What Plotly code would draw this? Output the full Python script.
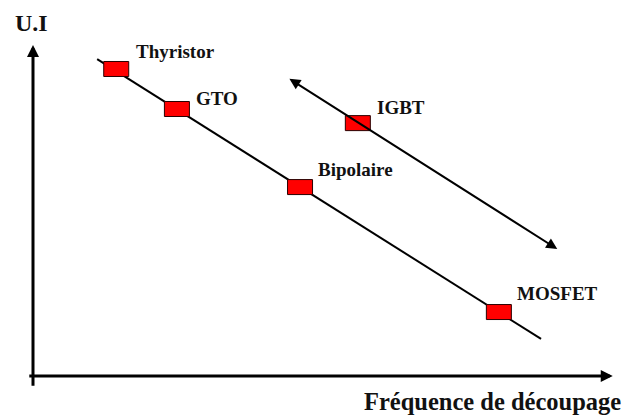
import plotly.graph_objects as go

# ---- data (arbitrary units: frequency on x, U.I on y) ----
devices = ["Thyristor", "GTO", "Bipolaire", "MOSFET"]
freq = [1.44, 2.49, 4.62, 8.06]
ui = [9.36, 8.14, 5.76, 1.95]

trend_freq = [1.11, 8.79]
trend_ui = [9.66, 1.13]

igbt_name = "IGBT"
igbt_freq = 5.62
igbt_ui = 7.71
igbt_span_freq = [4.41, 9.07]
igbt_span_ui = [9.09, 3.87]

x_axis_title = "Fréquence de découpage"
y_axis_title = "U.I"

FONT = "Liberation Serif, Times New Roman, serif"
W, H = 625, 411  # page body has an 8px margin

fig = go.Figure()

# main trend line
fig.add_trace(go.Scatter(x=trend_freq, y=trend_ui, mode="lines",
                         line=dict(color="black", width=2), hoverinfo="skip",
                         showlegend=False))

shapes = []
annotations = []

# device rectangles + labels
label_shift = {"Thyristor": (18, 17), "GTO": (17, 11), "Bipolaire": (16, 18), "MOSFET": (16, 19)}
for name, fx, fy in list(zip(devices, freq, ui)) + [(igbt_name, igbt_freq, igbt_ui)]:
    shapes.append(dict(type="rect", xref="x", yref="y", xsizemode="pixel", ysizemode="pixel",
                       xanchor=fx, yanchor=fy, x0=-12.5, x1=12.5, y0=-7.5, y1=7.5,
                       fillcolor="#ff0000", line=dict(color="#2a0000", width=1), layer="above"))
    dx, dy = label_shift.get(name, (17, 16))
    annotations.append(dict(x=fx, y=fy, xref="x", yref="y", text="<b>%s</b>" % name,
                            showarrow=False, xanchor="left", yanchor="middle",
                            xshift=dx, yshift=dy,
                            font=dict(family=FONT, size=19, color="#111")))

# IGBT double arrow
annotations.append(dict(x=igbt_span_freq[1], y=igbt_span_ui[1], ax=igbt_span_freq[0], ay=igbt_span_ui[0],
                        xref="x", yref="y", axref="x", ayref="y", text="", showarrow=True,
                        arrowhead=2, startarrowhead=2, arrowside="end+start",
                        arrowwidth=2, arrowsize=1.1, startarrowsize=1.1, arrowcolor="black",
                        standoff=0, startstandoff=0))

# axes drawn as arrows
annotations.append(dict(x=10.03, y=0, ax=-0.09, ay=0, xref="x", yref="y", axref="x", ayref="y",
                        text="", showarrow=True, arrowhead=2, arrowwidth=3, arrowsize=0.8,
                        arrowcolor="black", standoff=0))
annotations.append(dict(x=0, y=10.09, ax=0, ay=-0.34, xref="x", yref="y", axref="x", ayref="y",
                        text="", showarrow=True, arrowhead=2, arrowwidth=3, arrowsize=0.8,
                        arrowcolor="black", standoff=0))

# axis titles
annotations.append(dict(x=(13 - 8) / W, y=1 - (23 - 8) / H, xref="paper", yref="paper",
                        text="<b>%s</b>" % y_axis_title, showarrow=False,
                        xanchor="left", yanchor="middle",
                        font=dict(family=FONT, size=24, color="#111")))
annotations.append(dict(x=(623 - 8) / W, y=1 - (401 - 8) / H, xref="paper", yref="paper",
                        text="<b>%s</b>" % x_axis_title, showarrow=False,
                        xanchor="right", yanchor="middle",
                        font=dict(family=FONT, size=24.5, color="#111")))

fig.update_layout(
    width=W, height=H,
    margin=dict(l=0, r=0, t=0, b=0),
    paper_bgcolor="white", plot_bgcolor="white",
    xaxis=dict(range=[-25 / 57.8, 600 / 57.8], visible=False, fixedrange=True),
    yaxis=dict(range=[-43 / 32.8, 368 / 32.8], visible=False, fixedrange=True),
    shapes=shapes, annotations=annotations, showlegend=False,
)

fig.write_html("out.html", config={"displayModeBar": False})
